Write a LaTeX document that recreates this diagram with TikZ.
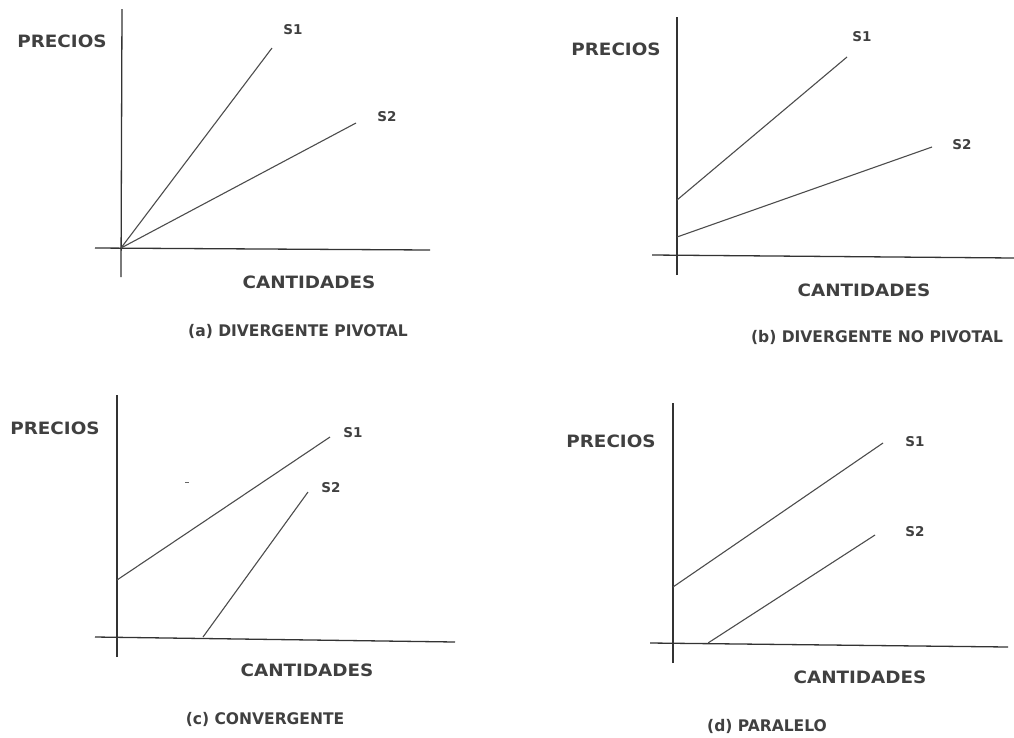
\documentclass[tikz,border=0pt]{standalone}
\usepackage{fontspec}
\setmainfont{DejaVu Sans}
\begin{document}
\begin{tikzpicture}[x=1pt,y=-1pt,
  axis/.style={draw=black!80, line width=1.3pt},
  curve/.style={draw=black!70, line width=1.1pt},
  ttl/.style={font=\fontsize{17}{17}\selectfont\bfseries, text=black!75, inner sep=0pt, xscale=1.08},
  captxt/.style={font=\fontsize{16}{16}\selectfont\bfseries, text=black!75, inner sep=0pt, xscale=0.97},
  slab/.style={font=\fontsize{13.5}{13.5}\selectfont\bfseries, text=black!75, inner sep=0pt}]
\useasboundingbox (0,0) rectangle (1014,737);
% ---------- (a)
\coordinate (aO) at (121,248);
\coordinate (aYt) at (122,9);
\coordinate (aYb) at (121,277);
\coordinate (aXl) at (95,248);
\coordinate (aXr) at (430,250);
\coordinate (aS1) at (272,48);
\coordinate (aS2) at (356,123);
\draw[axis] (aYb) -- (aYt);
\draw[axis] (aXl) -- (aXr);
\draw[curve] (aO) -- (aS1);
\draw[curve] (aO) -- (aS2);
\node[slab] (aL1) at (293,30) {S1};
\node[slab] (aL2) at (387,117) {S2};
\node[ttl] (aP) at (62,41) {PRECIOS};
\node[ttl] (aC) at (309,282) {CANTIDADES};
\node[captxt] (aT) at (298,331) {(a) DIVERGENTE PIVOTAL};
% ---------- (b)
\coordinate (bYt) at (677,17);
\coordinate (bYb) at (677,275);
\coordinate (bXl) at (652,255);
\coordinate (bXr) at (1014,258);
\coordinate (bS1a) at (677,200);
\coordinate (bS1b) at (847,57);
\coordinate (bS2a) at (677,237);
\coordinate (bS2b) at (932,147);
\draw[axis] (bYb) -- (bYt);
\draw[axis] (bXl) -- (bXr);
\draw[curve] (bS1a) -- (bS1b);
\draw[curve] (bS2a) -- (bS2b);
\node[slab] (bL1) at (862,37) {S1};
\node[slab] (bL2) at (962,145) {S2};
\node[ttl] (bP) at (616,49) {PRECIOS};
\node[ttl] (bC) at (864,290) {CANTIDADES};
\node[captxt] (bT) at (877,337) {(b) DIVERGENTE NO PIVOTAL};
% ---------- (c)
\coordinate (cYt) at (117,395);
\coordinate (cYb) at (117,657);
\coordinate (cXl) at (95,637);
\coordinate (cXr) at (455,642);
\coordinate (cS1a) at (117,580);
\coordinate (cS1b) at (330,437);
\coordinate (cS2a) at (203,637);
\coordinate (cS2b) at (308,492);
\draw[axis] (cYb) -- (cYt);
\draw[axis] (cXl) -- (cXr);
\draw[curve] (cS1a) -- (cS1b);
\draw[curve] (cS2a) -- (cS2b);
\node[slab] (cL1) at (353,433) {S1};
\node[slab] (cL2) at (331,488) {S2};
\node[ttl] (cP) at (55,428) {PRECIOS};
\node[ttl] (cC) at (307,670) {CANTIDADES};
\node[captxt] (cT) at (265,719) {(c) CONVERGENTE};
\coordinate (cd1) at (185,482);
\coordinate (cd2) at (189,482);
\draw[black!60, line width=1pt] (cd1) -- (cd2);
% ---------- (d)
\coordinate (dYt) at (673,403);
\coordinate (dYb) at (673,663);
\coordinate (dXl) at (650,643);
\coordinate (dXr) at (1008,647);
\coordinate (dS1a) at (673,587);
\coordinate (dS1b) at (883,443);
\coordinate (dS2a) at (708,643);
\coordinate (dS2b) at (875,535);
\draw[axis] (dYb) -- (dYt);
\draw[axis] (dXl) -- (dXr);
\draw[curve] (dS1a) -- (dS1b);
\draw[curve] (dS2a) -- (dS2b);
\node[slab] (dL1) at (915,442) {S1};
\node[slab] (dL2) at (915,532) {S2};
\node[ttl] (dP) at (611,441) {PRECIOS};
\node[ttl] (dC) at (860,677) {CANTIDADES};
\node[captxt] (dT) at (767,726) {(d) PARALELO};
\end{tikzpicture}
\end{document}
